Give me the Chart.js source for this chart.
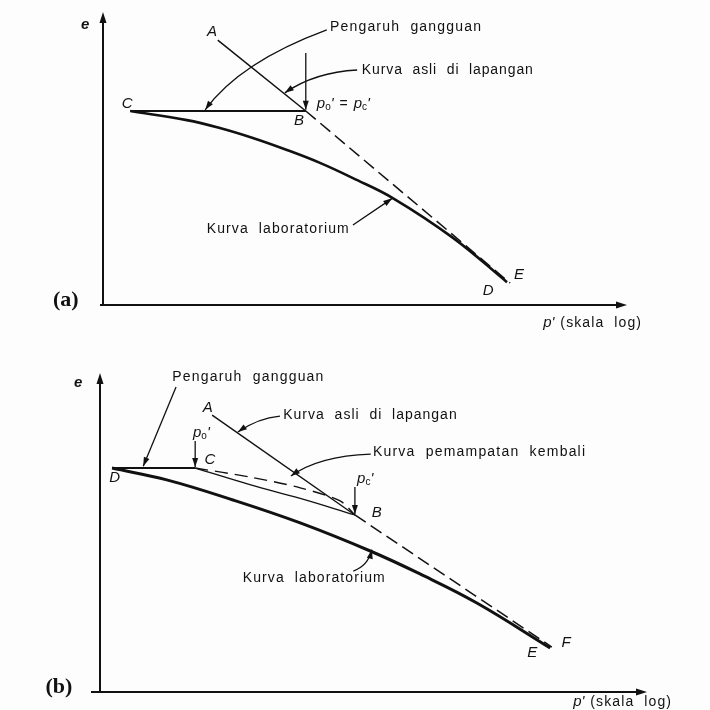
<!DOCTYPE html>
<html><head><meta charset="utf-8">
<script src="https://cdn.jsdelivr.net/npm/chart.js@4.4.1/dist/chart.umd.min.js"></script>
<style>
html,body{margin:0;padding:0;background:#fff;}
#wrap{position:relative;width:710px;height:710px;background:#fdfdfd;}
.box{position:absolute;left:0;width:710px;height:355px;}
</style></head><body>
<div id="wrap">
<div class="box" style="top:0"><canvas id="ca" width="710" height="355"></canvas></div>
<div class="box" style="top:355px"><canvas id="cb" width="710" height="355"></canvas></div>
</div>
<script>
// ---------- Panel (a) data: x = log p' (% of axis), y = e (% of axis) ----------
const aFieldX   = [21.9, 38.7];                 // A -> B (field curve, solid)
const aFieldY   = [90.4, 66.2];
const aFieldExtX = [38.7, 77.7];                // B -> E (dashed extension)
const aFieldExtY = [66.2, 7.5];
const aDistX    = [5.2, 38.7];                  // C -> B (disturbance, horizontal)
const aDistY    = [66.2, 66.2];
const aLabX     = [5.2, 16.0, 22.3, 28.6, 35.1, 41.4, 47.7, 55.3, 66.8, 77.1];
const aLabY     = [66.2, 63.1, 60.4, 57.0, 52.9, 48.5, 43.3, 36.5, 22.9, 7.8];

// ---------- Panel (b) data ----------
const bFieldX    = [20.5, 46.6];                // A -> B
const bFieldY    = [86.8, 55.5];
const bFieldExtX = [46.6, 82.6];                // B -> F dashed
const bFieldExtY = [55.5, 14.1];
const bDistX     = [2.2, 17.4];                 // D -> C
const bDistY     = [70.2, 70.2];
const bReloadX   = [17.4, 27.4, 36.6, 43.9, 46.6];   // C -> B dashed (recompression)
const bReloadY   = [70.2, 67.4, 64.0, 59.9, 55.5];
const bFieldCBX  = [17.4, 27.4, 36.6, 46.6];    // C -> B thin solid
const bFieldCBY  = [70.2, 65.0, 60.7, 55.5];
const bLabX      = [2.2, 12.2, 24.3, 36.6, 49.4, 58.5, 68.9, 82.3];
const bLabY      = [70.2, 66.5, 60.2, 53.0, 44.2, 37.0, 27.9, 13.8];

const pts = (xs, ys) => xs.map((x, i) => ({x, y: ys[i]}));
const INK = '#111';
const SANS = '"Liberation Sans", Arial, sans-serif';

function line(data, w, opts) {
  return Object.assign({data, borderColor: INK, borderWidth: w, pointRadius: 0,
    fill: false, tension: 0}, opts || {});
}

// ---------- annotation helpers ----------
function P(ch, x, y) { return [ch.scales.x.getPixelForValue(x), ch.scales.y.getPixelForValue(y)]; }
function head(ctx, tx, ty, fx, fy, len, hw) {
  const a = Math.atan2(ty - fy, tx - fx);
  ctx.beginPath();
  ctx.moveTo(tx, ty);
  ctx.lineTo(tx - len*Math.cos(a) + hw*Math.sin(a), ty - len*Math.sin(a) - hw*Math.cos(a));
  ctx.lineTo(tx - len*Math.cos(a) - hw*Math.sin(a), ty - len*Math.sin(a) + hw*Math.cos(a));
  ctx.closePath(); ctx.fill();
}
function arrow(ch, p0, c, p2) {
  const ctx = ch.ctx;
  const a = P(ch, p0[0], p0[1]), b = P(ch, p2[0], p2[1]);
  ctx.save(); ctx.strokeStyle = INK; ctx.fillStyle = INK; ctx.lineWidth = 1.3;
  ctx.beginPath(); ctx.moveTo(a[0], a[1]);
  let from = a;
  if (c) { const k = P(ch, c[0], c[1]); ctx.quadraticCurveTo(k[0], k[1], b[0], b[1]); from = k; }
  else ctx.lineTo(b[0], b[1]);
  ctx.stroke();
  head(ctx, b[0], b[1], from[0], from[1], 9, 3);
  ctx.restore();
}
function rich(ch, x, y, parts, align) {
  const ctx = ch.ctx; const p = P(ch, x, y);
  ctx.save(); ctx.fillStyle = INK; ctx.textBaseline = 'middle';
  let total = 0;
  parts.forEach(q => { ctx.font = q.font; total += ctx.measureText(q.t).width + (q.gap||0); });
  let cx = align === 'center' ? p[0] - total/2 : p[0];
  parts.forEach(q => {
    ctx.font = q.font;
    ctx.letterSpacing = (q.ls || 0) + 'px';
    ctx.fillText(q.t, cx, p[1] + (q.dy||0));
    cx += ctx.measureText(q.t).width + (q.gap||0);
  });
  ctx.restore();
}
function label(ch, x, y, t, font, align, ls) {
  const ctx = ch.ctx; const p = P(ch, x, y);
  ctx.save(); ctx.fillStyle = INK; ctx.font = font; ctx.textBaseline = 'middle';
  ctx.textAlign = align || 'left'; ctx.letterSpacing = (ls||0) + 'px';
  ctx.fillText(t, p[0], p[1]); ctx.restore();
}
function axes(ch, extLeft) {
  const ctx = ch.ctx, a = ch.chartArea;
  ctx.save(); ctx.strokeStyle = INK; ctx.fillStyle = INK; ctx.lineWidth = 2;
  ctx.beginPath();
  ctx.moveTo(a.left - extLeft, a.bottom); ctx.lineTo(a.right - 4, a.bottom);
  ctx.moveTo(a.left, a.bottom); ctx.lineTo(a.left, a.top + 4);
  ctx.stroke();
  head(ctx, a.right, a.bottom, a.left, a.bottom, 11, 3.5);
  head(ctx, a.left, a.top, a.left, a.bottom, 11, 3.5);
  ctx.restore();
}
const IT = 'italic 15px ' + SANS;
const TX = '14px ' + SANS;

const annA = {
  id: 'annA',
  afterDraw(ch) {
    axes(ch, 3);
    label(ch, -3.4, 95.6, 'e', 'italic bold 15px ' + SANS, 'center');
    label(ch, 20.8, 93.2, 'A', IT, 'center');
    label(ch, 37.4, 62.8, 'B', IT, 'center');
    label(ch, 4.6, 68.6, 'C', IT, 'center');
    label(ch, 73.5, 4.8, 'D', IT, 'center');
    label(ch, 79.4, 10.2, 'E', IT, 'center');
    label(ch, -7.1, 1.7, '(a)', 'bold 22px "Liberation Serif", serif', 'center');
    label(ch, 43.3, 94.9, 'Pengaruh  gangguan', TX, 'left', 1.2);
    label(ch, 49.4, 80.2, 'Kurva  asli  di  lapangan', TX, 'left', 0.9);
    label(ch, 19.8, 25.9, 'Kurva  laboratorium', TX, 'left', 1.1);
    rich(ch, 84.0, -6.1, [{t: "p'", font: IT, gap: 6}, {t: '(skala  log)', font: TX, ls: 1.1}]);
    rich(ch, 40.8, 68.6, [
      {t: 'p', font: IT}, {t: 'o', font: '10px ' + SANS, dy: 3}, {t: "'", font: IT, gap: 6},
      {t: '=', font: TX, gap: 6},
      {t: 'p', font: IT}, {t: 'c', font: '10px ' + SANS, dy: 3}, {t: "'", font: IT}]);
    arrow(ch, [42.7, 93.9], [26.1, 82.9], [19.5, 66.6]);
    arrow(ch, [48.5, 80.2], [40.5, 79.5], [34.7, 72.4]);
    arrow(ch, [38.7, 86.0], null, [38.7, 66.6]);
    arrow(ch, [47.7, 27.3], [52.5, 33.1], [55.2, 36.4]);
  }
};

const annB = {
  id: 'annB',
  afterDraw(ch) {
    axes(ch, 9);
    label(ch, -4.0, 96.9, 'e', 'italic bold 15px ' + SANS, 'center');
    label(ch, -7.5, 1.6, '(b)', 'bold 22px "Liberation Serif", serif', 'center');
    label(ch, 13.2, 98.7, 'Pengaruh  gangguan', TX, 'left', 1.2);
    label(ch, 2.7, 67.1, 'D', IT, 'center');
    label(ch, 20.1, 72.7, 'C', IT, 'center');
    label(ch, 19.7, 89.0, 'A', IT, 'center');
    label(ch, 50.6, 56.1, 'B', IT, 'center');
    label(ch, 79.0, 12.2, 'E', IT, 'center');
    label(ch, 85.2, 15.4, 'F', IT, 'center');
    label(ch, 33.5, 86.8, 'Kurva  asli  di  lapangan', TX, 'left', 1.0);
    label(ch, 49.9, 75.2, 'Kurva  pemampatan  kembali', TX, 'left', 1.2);
    label(ch, 26.1, 35.7, 'Kurva  laboratorium', TX, 'left', 1.1);
    rich(ch, 17.0, 81.2, [{t: 'p', font: IT}, {t: 'o', font: '10px ' + SANS, dy: 3}, {t: "'", font: IT}]);
    rich(ch, 47.0, 66.8, [{t: 'p', font: IT}, {t: 'c', font: '10px ' + SANS, dy: 3}, {t: "'", font: IT}]);
    rich(ch, 86.5, -3.1, [{t: "p'", font: IT, gap: 6}, {t: '(skala  log)', font: TX, ls: 1.1}]);
    arrow(ch, [13.9, 95.6], null, [7.9, 70.8]);
    arrow(ch, [17.4, 78.7], null, [17.4, 70.5]);
    arrow(ch, [46.6, 64.3], null, [46.6, 55.8]);
    arrow(ch, [32.9, 86.5], [28.9, 85.9], [25.2, 81.5]);
    arrow(ch, [49.5, 74.6], [39.9, 74.0], [34.9, 67.7]);
    arrow(ch, [46.3, 37.9], [49.0, 39.5], [49.7, 44.6]);
  }
};

function opts(pad) {
  return {
    responsive: false, animation: false, devicePixelRatio: 1,
    layout: {padding: pad},
    plugins: {legend: {display: false}, tooltip: {enabled: false}},
    scales: {
      x: {type: 'linear', min: 0, max: 100, display: false},
      y: {type: 'linear', min: 0, max: 100, display: false}
    }
  };
}

new Chart(document.getElementById('ca'), {
  type: 'line',
  data: {datasets: [
    line(pts(aLabX, aLabY), 2.6, {tension: 0.4}),
    line(pts(aFieldX, aFieldY), 1.5),
    line(pts(aFieldExtX, aFieldExtY), 1.5, {borderDash: [13, 6]}),
    line(pts(aDistX, aDistY), 2)
  ]},
  options: opts({left: 103, right: 83, top: 12, bottom: 50}),
  plugins: [annA]
});

new Chart(document.getElementById('cb'), {
  type: 'line',
  data: {datasets: [
    line(pts(bLabX, bLabY), 3, {tension: 0.4}),
    line(pts(bFieldX, bFieldY), 1.4),
    line(pts(bFieldExtX, bFieldExtY), 1.5, {borderDash: [13, 6]}),
    line(pts(bDistX, bDistY), 2),
    line(pts(bReloadX, bReloadY), 1.4, {borderDash: [13, 7], tension: 0.3}),
    line(pts(bFieldCBX, bFieldCBY), 1.3, {tension: 0.4})
  ]},
  options: opts({left: 100, right: 63, top: 18, bottom: 18}),
  plugins: [annB]
});
</script>
</body></html>
